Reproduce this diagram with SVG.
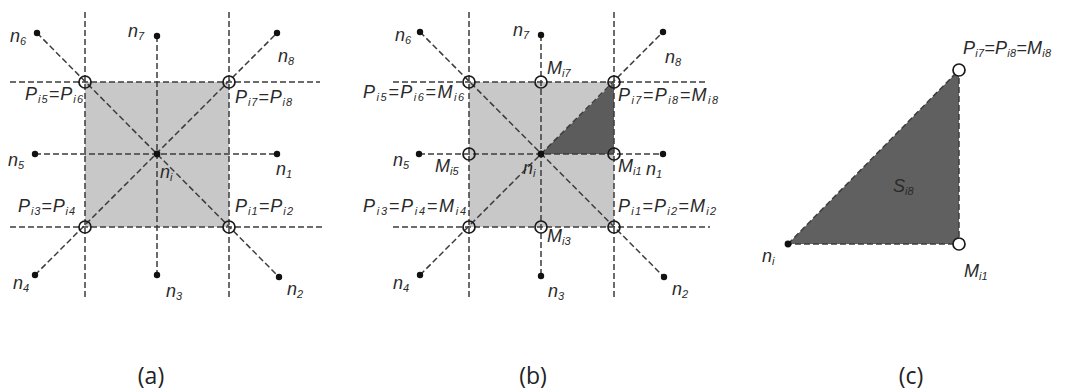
<svg xmlns="http://www.w3.org/2000/svg" width="1080" height="392" viewBox="0 0 1080 392">
<style>
.d{stroke:#3c3c3c;stroke-width:1.5;stroke-dasharray:6 3;fill:none}
.c{stroke:#1a1a1a;stroke-width:1.7;fill:none}
.cw{stroke:#1a1a1a;stroke-width:1.7;fill:#fff}
.dot{fill:#111}
.t{font-family:"Liberation Sans",Arial,sans-serif;font-style:italic;font-size:18px;fill:#2a2a2a}
.s{font-size:11px}
.cap{font-family:"Open Sans","Liberation Sans",sans-serif;font-size:23px;fill:#222}
</style>
<rect width="1080" height="392" fill="#fff"/>

<!-- Panel (a) -->
<g id="panel-a">
<rect x="85" y="82" width="144" height="145" fill="#c8c8c8"/>
<g id="a-connectors">
<line class="d" x1="85" y1="12" x2="85" y2="298"/>
<line class="d" x1="229" y1="12" x2="229" y2="298"/>
<line class="d" x1="10" y1="82" x2="320" y2="82"/>
<line class="d" x1="10" y1="227" x2="323" y2="227"/>
<line class="d" x1="35" y1="154" x2="277" y2="154"/>
<line class="d" x1="157" y1="36" x2="157" y2="275"/>
<line class="d" x1="37" y1="33" x2="279" y2="277"/>
<line class="d" x1="35" y1="275" x2="277" y2="33"/>
</g>
<g id="a-nodes">
<circle class="dot" cx="37" cy="33" r="3.2"/>
<circle class="dot" cx="157" cy="36" r="3.2"/>
<circle class="dot" cx="277" cy="33" r="3.2"/>
<circle class="dot" cx="35" cy="154" r="3.2"/>
<circle class="dot" cx="277" cy="154" r="3.2"/>
<circle class="dot" cx="35" cy="275" r="3.2"/>
<circle class="dot" cx="157" cy="275" r="3.2"/>
<circle class="dot" cx="279" cy="277" r="3.2"/>
<circle class="dot" cx="157" cy="154" r="3.4"/>
<circle class="c" cx="85" cy="82" r="6"/>
<circle class="c" cx="229" cy="82" r="6"/>
<circle class="c" cx="85" cy="227" r="6"/>
<circle class="c" cx="229" cy="227" r="6"/>
</g>
<g id="a-labels">
<text class="t" x="10" y="42">n<tspan class="s" dy="3">6</tspan></text>
<text class="t" x="128" y="37">n<tspan class="s" dy="3">7</tspan></text>
<text class="t" x="278" y="62">n<tspan class="s" dy="3">8</tspan></text>
<text class="t" x="8" y="166">n<tspan class="s" dy="3">5</tspan></text>
<text class="t" x="276" y="175">n<tspan class="s" dy="3">1</tspan></text>
<text class="t" x="160" y="178">n<tspan class="s" dy="3">i</tspan></text>
<text class="t" x="13" y="289">n<tspan class="s" dy="3">4</tspan></text>
<text class="t" x="166" y="297">n<tspan class="s" dy="3">3</tspan></text>
<text class="t" x="287" y="295">n<tspan class="s" dy="3">2</tspan></text>
<text class="t" x="25" y="100" textLength="58">P<tspan class="s" dy="3">i5</tspan><tspan dy="-3">=P</tspan><tspan class="s" dy="3">i6</tspan></text>
<text class="t" x="235" y="103" textLength="57">P<tspan class="s" dy="3">i7</tspan><tspan dy="-3">=P</tspan><tspan class="s" dy="3">i8</tspan></text>
<text class="t" x="18" y="212" textLength="57">P<tspan class="s" dy="3">i3</tspan><tspan dy="-3">=P</tspan><tspan class="s" dy="3">i4</tspan></text>
<text class="t" x="235" y="212" textLength="58">P<tspan class="s" dy="3">i1</tspan><tspan dy="-3">=P</tspan><tspan class="s" dy="3">i2</tspan></text>
</g>
</g>

<!-- Panel (b) -->
<g id="panel-b">
<rect x="469" y="82" width="145" height="145" fill="#c8c8c8"/>
<polygon points="541,154 614,82 614,154" fill="#5c5c5c"/>
<g id="b-connectors">
<line class="d" x1="469" y1="12" x2="469" y2="298"/>
<line class="d" x1="614" y1="12" x2="614" y2="298"/>
<line class="d" x1="393" y1="82" x2="705" y2="82"/>
<line class="d" x1="393" y1="227" x2="710" y2="227"/>
<line class="d" x1="419" y1="154" x2="663" y2="154"/>
<line class="d" x1="541" y1="35" x2="541" y2="276"/>
<line class="d" x1="420" y1="32" x2="664" y2="277"/>
<line class="d" x1="420" y1="275" x2="663" y2="32"/>
</g>
<g id="b-nodes">
<circle class="dot" cx="420" cy="32" r="3.2"/>
<circle class="dot" cx="541" cy="35" r="3.2"/>
<circle class="dot" cx="663" cy="32" r="3.2"/>
<circle class="dot" cx="419" cy="154" r="3.2"/>
<circle class="dot" cx="663" cy="154" r="3.2"/>
<circle class="dot" cx="420" cy="275" r="3.2"/>
<circle class="dot" cx="541" cy="276" r="3.2"/>
<circle class="dot" cx="664" cy="277" r="3.2"/>
<circle class="dot" cx="541" cy="154" r="3.4"/>
<circle class="c" cx="469" cy="82" r="6"/>
<circle class="c" cx="541" cy="82" r="6"/>
<circle class="c" cx="614" cy="82" r="6"/>
<circle class="c" cx="469" cy="154" r="6"/>
<circle class="c" cx="614" cy="154" r="6"/>
<circle class="c" cx="469" cy="227" r="6"/>
<circle class="c" cx="541" cy="227" r="6"/>
<circle class="c" cx="614" cy="227" r="6"/>
</g>
<g id="b-labels">
<text class="t" x="395" y="41">n<tspan class="s" dy="3">6</tspan></text>
<text class="t" x="513" y="36">n<tspan class="s" dy="3">7</tspan></text>
<text class="t" x="665" y="63">n<tspan class="s" dy="3">8</tspan></text>
<text class="t" x="547" y="74">M<tspan class="s" dy="3">i7</tspan></text>
<text class="t" x="393" y="166">n<tspan class="s" dy="3">5</tspan></text>
<text class="t" x="435" y="172">M<tspan class="s" dy="3">i5</tspan></text>
<text class="t" x="523" y="174">n<tspan class="s" dy="3">i</tspan></text>
<text class="t" x="618" y="172">M<tspan class="s" dy="3">i1</tspan></text>
<text class="t" x="646" y="175">n<tspan class="s" dy="3">1</tspan></text>
<text class="t" x="547" y="242">M<tspan class="s" dy="3">i3</tspan></text>
<text class="t" x="393" y="289">n<tspan class="s" dy="3">4</tspan></text>
<text class="t" x="548" y="297">n<tspan class="s" dy="3">3</tspan></text>
<text class="t" x="672" y="295">n<tspan class="s" dy="3">2</tspan></text>
<text class="t" x="363" y="98" textLength="101">P<tspan class="s" dy="3">i5</tspan><tspan dy="-3">=P</tspan><tspan class="s" dy="3">i6</tspan><tspan dy="-3">=M</tspan><tspan class="s" dy="3">i6</tspan></text>
<text class="t" x="618" y="101" textLength="100">P<tspan class="s" dy="3">i7</tspan><tspan dy="-3">=P</tspan><tspan class="s" dy="3">i8</tspan><tspan dy="-3">=M</tspan><tspan class="s" dy="3">i8</tspan></text>
<text class="t" x="363" y="212" textLength="103">P<tspan class="s" dy="3">i3</tspan><tspan dy="-3">=P</tspan><tspan class="s" dy="3">i4</tspan><tspan dy="-3">=M</tspan><tspan class="s" dy="3">i4</tspan></text>
<text class="t" x="618" y="212" textLength="98">P<tspan class="s" dy="3">i1</tspan><tspan dy="-3">=P</tspan><tspan class="s" dy="3">i2</tspan><tspan dy="-3">=M</tspan><tspan class="s" dy="3">i2</tspan></text>
</g>
</g>

<!-- Panel (c) -->
<g id="panel-c">
<polygon points="788,244 959,70 959,244" fill="#606060"/>
<g id="c-connectors">
<polygon class="d" points="788,244 959,70 959,244" stroke="#2a2a2a"/>
</g>
<g id="c-nodes">
<circle class="dot" cx="788" cy="244" r="3.4"/>
<circle class="cw" cx="959" cy="70" r="6"/>
<circle class="cw" cx="959" cy="244" r="6"/>
</g>
<g id="c-labels">
<text class="t" x="963" y="54" textLength="88">P<tspan class="s" dy="3">i7</tspan><tspan dy="-3">=P</tspan><tspan class="s" dy="3">i8</tspan><tspan dy="-3">=M</tspan><tspan class="s" dy="3">i8</tspan></text>
<text class="t" x="893" y="192">S<tspan class="s" dy="3">i8</tspan></text>
<text class="t" x="762" y="262">n<tspan class="s" dy="3">i</tspan></text>
<text class="t" x="964" y="277">M<tspan class="s" dy="3">i1</tspan></text>
</g>
</g>

<g id="captions">
<text class="cap" x="151" y="384" text-anchor="middle">(a)</text>
<text class="cap" x="533" y="384" text-anchor="middle">(b)</text>
<text class="cap" x="911" y="384" text-anchor="middle">(c)</text>
</g>
</svg>
